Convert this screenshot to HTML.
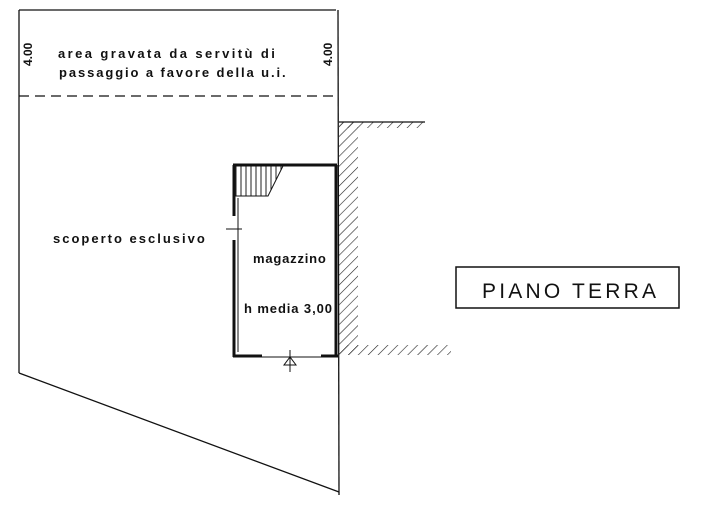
<!DOCTYPE html>
<html><head><meta charset="utf-8"><style>
html,body{margin:0;padding:0;background:#fff;}
svg{display:block;}
text{font-family:"Liberation Sans",sans-serif;fill:#111;}
</style></head><body>
<svg width="707" height="517" viewBox="0 0 707 517" xmlns="http://www.w3.org/2000/svg">
<defs>
<pattern id="h" width="7" height="7" patternUnits="userSpaceOnUse" patternTransform="rotate(45)">
<line x1="0" y1="0" x2="0" y2="7" stroke="#222" stroke-width="1.2"/>
</pattern>
<pattern id="v" width="5" height="10" patternUnits="userSpaceOnUse">
<line x1="1" y1="0" x2="1" y2="10" stroke="#222" stroke-width="1"/>
</pattern>
</defs>
<g stroke="#111" fill="none" stroke-width="1.3">
<polyline points="19,10 336,10"/>
<line x1="19" y1="10" x2="19" y2="373"/>
<line x1="19" y1="373" x2="339" y2="492"/>
<line x1="338" y1="10" x2="339" y2="495"/>
<line x1="19" y1="96" x2="336" y2="96" stroke-dasharray="10,6"/>
</g>
<rect x="339" y="122" width="19" height="233" fill="url(#h)"/>
<rect x="339" y="122" width="86" height="6" fill="url(#h)"/>
<rect x="339" y="345" width="112" height="10" fill="url(#h)"/>
<line x1="339" y1="122" x2="425" y2="122" stroke="#111" stroke-width="1.3"/>
<polygon points="233,166 283,166 268,196 233,196" fill="url(#v)" stroke="#111" stroke-width="1"/>
<g stroke="#111" fill="none" stroke-width="3">
<line x1="233" y1="165" x2="337" y2="165"/>
<line x1="234" y1="165" x2="234" y2="216"/>
<line x1="234" y1="240" x2="234" y2="357"/>
<line x1="233" y1="356" x2="262" y2="356"/>
<line x1="321" y1="356" x2="338" y2="356"/>
<line x1="336" y1="165" x2="336" y2="357"/>
</g>
<g stroke="#111" stroke-width="1">
<line x1="238" y1="198" x2="238" y2="352"/>
<line x1="262" y1="357" x2="321" y2="357"/>
<line x1="226" y1="229" x2="242" y2="229"/>
<line x1="290" y1="350" x2="290" y2="372"/>
<polygon points="284,365 296,365 290,357" fill="none"/>
</g>
<text x="58" y="58" font-size="13" font-weight="bold" letter-spacing="2.4">area gravata da servitù di</text>
<text x="59" y="77" font-size="13" font-weight="bold" letter-spacing="1.9">passaggio a favore della u.i.</text>
<text transform="translate(32,66) rotate(-90)" font-size="12" font-weight="bold">4.00</text>
<text transform="translate(332,66) rotate(-90)" font-size="12" font-weight="bold">4.00</text>
<text x="53" y="243" font-size="13" font-weight="bold" letter-spacing="2">scoperto esclusivo</text>
<text x="253" y="263" font-size="13" font-weight="bold" letter-spacing="0.8">magazzino</text>
<text x="244" y="313" font-size="13" font-weight="bold" letter-spacing="0.9">h media 3,00</text>
<rect x="456" y="267" width="223" height="41" fill="none" stroke="#111" stroke-width="1.5"/>
<text x="482" y="298" font-size="21" letter-spacing="3.2">PIANO  TERRA</text>
</svg>
</body></html>
